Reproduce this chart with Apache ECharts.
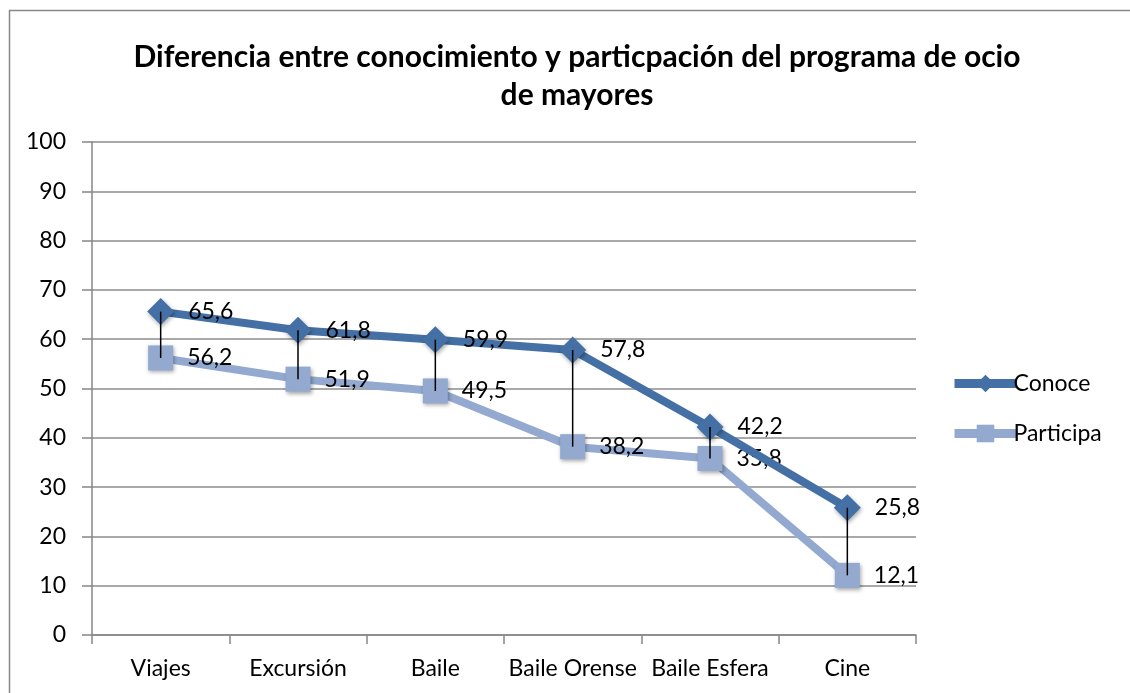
<!DOCTYPE html>
<html>
<head>
<meta charset="utf-8">
<script src="https://cdn.jsdelivr.net/npm/echarts@6/dist/echarts.min.js"></script>
<style>
  html, body { margin: 0; padding: 0; background: #fff; }
  #chart { width: 1130px; height: 693px; }
</style>
</head>
<body>
<div id="chart"></div>
<script>
// datos del gráfico
const categorias = ['Viajes', 'Excursión', 'Baile', 'Baile Orense', 'Baile Esfera', 'Cine'];
const conoce = [65.6, 61.8, 59.9, 57.8, 42.2, 25.8];
const participa = [56.2, 51.9, 49.5, 38.2, 35.8, 12.1];

const fuente = 'Lato';
const coma = v => String(v).replace('.', ',');

// líneas verticales entre las dos series
const diferencias = categorias.map((c, i) => [i, conoce[i], participa[i]]);

const chart = echarts.init(document.getElementById('chart'));

const option = {
  animation: false,
  textStyle: { fontFamily: fuente },
  title: {
    text: 'Diferencia entre conocimiento y particpación del programa de ocio\nde mayores',
    left: 572,
    textAlign: 'center',
    top: 33,
    textStyle: { fontSize: 30, fontWeight: 'bold', color: '#000', lineHeight: 38, fontFamily: fuente }
  },
  graphic: [{
    type: 'rect',
    shape: { x: 9.5, y: 10.5, width: 1200, height: 800 },
    style: { fill: 'none', stroke: '#888', lineWidth: 1.5 },
    silent: true
  }],
  legend: {
    orient: 'vertical',
    left: 945,
    top: 367,
    itemWidth: 62,
    itemHeight: 22,
    itemGap: 27,
    lineStyle: { width: 9 },
    textStyle: { fontSize: 23, color: '#000', padding: [0, 0, 0, -8] },
    data: ['Conoce', 'Participa']
  },
  grid: { left: 92, right: 214, top: 142, bottom: 58 },
  xAxis: {
    type: 'category',
    data: categorias,
    boundaryGap: true,
    axisLine: { lineStyle: { color: '#868686', width: 1.5 } },
    axisTick: { show: true, length: 9, inside: false, interval: 0, lineStyle: { color: '#868686', width: 1.5 } },
    axisLabel: { fontSize: 23, color: '#000', margin: 22, interval: 0, hideOverlap: false, fontFamily: fuente }
  },
  yAxis: {
    type: 'value',
    min: 0,
    max: 100,
    interval: 10,
    axisLine: { show: true, lineStyle: { color: '#868686', width: 1.5 } },
    axisTick: { show: true, length: 10, lineStyle: { color: '#868686', width: 1.5 } },
    axisLabel: { fontSize: 23, color: '#000', margin: 26, fontFamily: fuente },
    splitLine: { lineStyle: { color: '#8c8c8c', width: 1.5 } }
  },
  series: [
    {
      name: 'Conoce',
      type: 'line',
      data: conoce,
      symbol: 'diamond',
      symbolSize: 27,
      z: 3,
      lineStyle: { color: '#4470A5', width: 8 },
      itemStyle: { color: '#4470A5', shadowBlur: 4, shadowColor: 'rgba(0,0,0,0.35)', shadowOffsetX: 1, shadowOffsetY: 2 },
      label: {
        show: true,
        position: 'right',
        distance: 14,
        fontSize: 23,
        color: '#000',
        fontFamily: fuente,
        formatter: p => coma(p.value)
      }
    },
    {
      name: 'Participa',
      type: 'line',
      data: participa,
      symbol: 'rect',
      symbolSize: 25,
      z: 2,
      lineStyle: { color: '#93A9D0', width: 8 },
      itemStyle: { color: '#93A9D0', shadowBlur: 4, shadowColor: 'rgba(0,0,0,0.35)', shadowOffsetX: 1, shadowOffsetY: 2 },
      label: {
        show: true,
        position: 'right',
        distance: 14,
        fontSize: 23,
        color: '#000',
        fontFamily: fuente,
        formatter: p => coma(p.value)
      }
    },
    {
      type: 'custom',
      name: 'diferencia',
      z: 5,
      silent: true,
      encode: { x: 0, y: [1, 2] },
      data: diferencias,
      renderItem: (params, api) => {
        const a = api.coord([api.value(0), api.value(1)]);
        const b = api.coord([api.value(0), api.value(2)]);
        return {
          type: 'line',
          shape: { x1: a[0], y1: a[1], x2: b[0], y2: b[1] },
          style: { stroke: '#000', lineWidth: 1.5 }
        };
      }
    }
  ]
};

chart.setOption(option);
</script>
</body>
</html>
